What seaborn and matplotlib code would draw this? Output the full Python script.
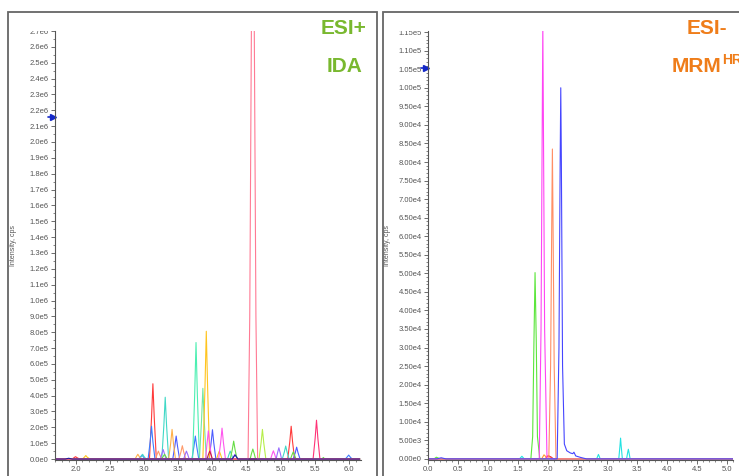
import numpy as np
import pandas as pd
import matplotlib
matplotlib.use("Agg")
import matplotlib.pyplot as plt
import matplotlib.ticker as mticker
from matplotlib.patches import Rectangle
from matplotlib.transforms import Bbox, TransformedBbox, blended_transform_factory
import seaborn as sns

sns.set_theme(style="white")
plt.rcParams["font.family"] = ["Liberation Sans", "DejaVu Sans"]

# ---- ESI+ IDA traces (time in min, intensity in cps) ----
pos_red_t = [1.70, 1.95, 1.98, 2.00, 2.02, 2.06, 3.08, 3.11, 3.13, 3.15, 3.18, 5.10, 5.13, 5.15, 5.17, 5.20, 6.15]
pos_red_y = [0, 0, 9e3, 1.5e4, 9e3, 0, 0, 2.6e5, 4.75e5, 2.6e5, 0, 0, 1.1e5, 2.07e5, 1.1e5, 0, 0]
pos_blue_t = [1.70, 2.92, 2.95, 2.97, 2.99, 3.02, 3.06, 3.09, 3.11, 3.13, 3.16, 3.70, 3.73, 3.75, 3.77, 3.80,
              5.94, 5.97, 5.99, 6.01, 6.04, 6.15]
pos_blue_y = [0, 0, 1.4e4, 2.5e4, 1.4e4, 0, 0, 1.1e5, 2.07e5, 1.1e5, 0, 0, 8e4, 1.45e5, 8e4, 0,
              0, 1.4e4, 2.5e4, 1.4e4, 0, 0]
pos_blue2_t = [1.70, 3.42, 3.45, 3.47, 3.49, 3.52, 3.95, 3.98, 4.00, 4.02, 4.05, 5.18, 5.21, 5.23, 5.25, 5.28, 6.15]
pos_blue2_y = [0, 0, 8e4, 1.45e5, 8e4, 0, 0, 1.0e5, 1.85e5, 1.0e5, 0, 0, 4e4, 7.5e4, 4e4, 0, 0]
pos_teal_t = [1.70, 2.94, 2.96, 2.98, 3.00, 3.03, 3.26, 3.29, 3.31, 3.33, 3.36, 4.22, 4.24, 4.26, 4.28, 4.30,
              5.02, 5.05, 5.07, 5.09, 5.12, 6.15]
pos_teal_y = [0, 0, 1.6e4, 3e4, 1.6e4, 0, 0, 2.1e5, 3.9e5, 2.1e5, 0, 0, 2.7e4, 5e4, 2.7e4, 0,
              0, 4.4e4, 8.2e4, 4.4e4, 0, 0]
pos_orange_t = [1.70, 2.87, 2.89, 2.91, 2.93, 2.96, 3.36, 3.39, 3.41, 3.43, 3.46, 6.15]
pos_orange_y = [0, 0, 1.6e4, 3e4, 1.6e4, 0, 0, 1.0e5, 1.87e5, 1.0e5, 0, 0]
pos_salmon_t = [1.70, 3.17, 3.19, 3.21, 3.23, 3.26, 3.51, 3.54, 3.56, 3.58, 3.61, 6.15]
pos_salmon_y = [0, 0, 2.7e4, 5e4, 2.7e4, 0, 0, 4.5e4, 8.4e4, 4.5e4, 0, 0]
pos_mint_t = [1.70, 3.71, 3.74, 3.76, 3.78, 3.81, 6.15]
pos_mint_y = [0, 0, 4.0e5, 7.35e5, 4.0e5, 0, 0]
pos_mint2_t = [1.70, 3.81, 3.84, 3.86, 3.88, 3.91, 6.15]
pos_mint2_y = [0, 0, 2.4e5, 4.46e5, 2.4e5, 0, 0]
pos_gold_t = [1.70, 2.10, 2.13, 2.15, 2.17, 2.21, 3.86, 3.89, 3.91, 3.93, 3.96, 4.06, 4.08, 4.10, 4.12, 4.14, 6.15]
pos_gold_y = [0, 0, 1.2e4, 2.2e4, 1.2e4, 0, 0, 4.4e5, 8.06e5, 4.4e5, 0, 0, 2.7e4, 5e4, 2.7e4, 0, 0]
pos_magenta_t = [1.70, 3.90, 3.92, 3.94, 3.96, 3.99, 4.09, 4.12, 4.14, 4.16, 4.19, 4.85, 4.87, 4.89, 4.91, 4.93, 6.15]
pos_magenta_y = [0, 0, 9.5e4, 1.78e5, 9.5e4, 0, 0, 1.05e5, 1.95e5, 1.05e5, 0, 0, 2.8e4, 5.2e4, 2.8e4, 0, 0]
pos_violet_t = [1.70, 3.24, 3.26, 3.28, 3.30, 3.32, 3.58, 3.60, 3.62, 3.64, 3.66, 4.29, 4.31, 4.33, 4.35, 4.37,
                4.93, 4.95, 4.97, 4.99, 5.01, 6.15]
pos_violet_y = [0, 0, 3.2e4, 6e4, 3.2e4, 0, 0, 2.7e4, 5e4, 2.7e4, 0, 0, 1.6e4, 3e4, 1.6e4, 0,
                0, 3.8e4, 7.1e4, 3.8e4, 0, 0]
pos_green_t = [1.70, 3.26, 3.28, 3.30, 3.32, 3.34, 4.26, 4.29, 4.31, 4.33, 4.36, 4.55, 4.57, 4.59, 4.61, 4.63,
               5.14, 5.16, 5.18, 5.20, 5.22, 5.60, 5.62, 5.64, 6.15]
pos_green_y = [0, 0, 1.6e4, 3e4, 1.6e4, 0, 0, 6e4, 1.13e5, 6e4, 0, 0, 3.4e4, 6.3e4, 3.4e4, 0,
               0, 2.4e4, 4.5e4, 2.4e4, 0, 0, 1e4, 0, 0]
pos_pink_t = [1.70, 4.52, 4.545, 4.57, 4.59, 4.61, 4.635, 4.66, 6.15]
pos_pink_y = [0, 0, 0.9e6, 2.8e6, 4.5e6, 2.8e6, 0.9e6, 0, 0]
pos_ygreen_t = [1.70, 4.68, 4.71, 4.73, 4.75, 4.78, 6.15]
pos_ygreen_y = [0, 0, 1.0e5, 1.87e5, 1.0e5, 0, 0]
pos_crimson_t = [1.70, 5.47, 5.50, 5.52, 5.54, 5.57, 6.15]
pos_crimson_y = [0, 0, 1.3e5, 2.45e5, 1.3e5, 0, 0]
pos_darkred_t = [1.70, 3.92, 3.94, 3.96, 3.98, 4.00, 6.15]
pos_darkred_y = [0, 0, 2.7e4, 5e4, 2.7e4, 0, 0]
pos_navy_t = [1.70, 1.85, 1.90, 1.95, 4.29, 4.31, 4.33, 4.35, 4.37, 6.15]
pos_navy_y = [0, 0, 5e3, 0, 0, 1.4e4, 2.5e4, 1.4e4, 0, 0]

# ---- ESI- MRMHR traces ----
neg_green_t = [0.02, 0.10, 0.14, 0.20, 1.72, 1.75, 1.77, 1.79, 1.81, 1.83, 1.87, 5.10]
neg_green_y = [0, 0, 450, 0, 0, 6e3, 3.0e4, 5.02e4, 3.2e4, 6e3, 0, 0]
neg_magenta_t = [0.02, 1.86, 1.89, 1.91, 1.92, 1.93, 1.95, 1.99, 5.10]
neg_magenta_y = [0, 0, 3.5e4, 9e4, 1.17e5, 9e4, 3.5e4, 0, 0]
neg_salmon_t = [0.02, 2.02, 2.05, 2.07, 2.08, 2.09, 2.11, 2.14, 5.10]
neg_salmon_y = [0, 0, 2.5e4, 6.5e4, 8.35e4, 6.5e4, 2.5e4, 0, 0]
neg_blue_t = [0.02, 0.15, 0.22, 0.30, 2.16, 2.19, 2.21, 2.22, 2.23, 2.25, 2.28, 2.32, 2.38, 2.42, 2.44, 2.47,
              2.55, 2.65, 5.10]
neg_blue_y = [0, 0, 300, 0, 0, 3e4, 8e4, 1.0e5, 8e4, 2.5e4, 4e3, 2.2e3, 1.6e3, 1.4e3, 1.8e3, 800,
              400, 0, 0]
neg_cyan_t = [0.02, 1.53, 1.57, 1.61, 2.82, 2.85, 2.88, 3.19, 3.21, 3.22, 3.23, 3.25, 3.32, 3.34, 3.35, 3.36,
              3.38, 5.10]
neg_cyan_y = [0, 0, 700, 0, 0, 1.2e3, 0, 0, 3.5e3, 5.6e3, 3.5e3, 0, 0, 1.8e3, 2.6e3, 1.8e3,
              0, 0]
neg_orange_t = [0.02, 1.90, 1.94, 1.98, 2.02, 2.06, 5.10]
neg_orange_y = [0, 0, 1.1e3, 400, 900, 0, 0]
neg_red_t = [0.02, 1.96, 2.00, 2.05, 2.10, 5.10]
neg_red_y = [0, 0, 800, 600, 0, 0]

pos_traces = [
    ("red", "#ff3b3b", pos_red_t, pos_red_y),
    ("blue", "#3a7bff", pos_blue_t, pos_blue_y),
    ("blue2", "#4c5cff", pos_blue2_t, pos_blue2_y),
    ("teal", "#40d8c6", pos_teal_t, pos_teal_y),
    ("orange", "#ffb04a", pos_orange_t, pos_orange_y),
    ("salmon", "#ff9a6a", pos_salmon_t, pos_salmon_y),
    ("mint", "#4cefb2", pos_mint_t, pos_mint_y),
    ("mint2", "#72e6a4", pos_mint2_t, pos_mint2_y),
    ("gold", "#ffc41f", pos_gold_t, pos_gold_y),
    ("magenta", "#ff55ee", pos_magenta_t, pos_magenta_y),
    ("violet", "#9a6cff", pos_violet_t, pos_violet_y),
    ("green", "#66dd44", pos_green_t, pos_green_y),
    ("ygreen", "#b6ee4a", pos_ygreen_t, pos_ygreen_y),
    ("crimson", "#ff3377", pos_crimson_t, pos_crimson_y),
    ("darkred", "#c8203c", pos_darkred_t, pos_darkred_y),
    ("pink", "#ff7a94", pos_pink_t, pos_pink_y),
    ("navy", "#1c1ca0", pos_navy_t, pos_navy_y),
]
neg_traces = [
    ("cyan", "#22e2e2", neg_cyan_t, neg_cyan_y),
    ("orange", "#ff9933", neg_orange_t, neg_orange_y),
    ("red", "#ee3344", neg_red_t, neg_red_y),
    ("green", "#5ce63c", neg_green_t, neg_green_y),
    ("magenta", "#ff44f4", neg_magenta_t, neg_magenta_y),
    ("salmon", "#ff8f66", neg_salmon_t, neg_salmon_y),
    ("blue", "#4545ff", neg_blue_t, neg_blue_y),
]


def make_df(traces):
    rows = []
    for name, _, t, y in traces:
        rows.append(pd.DataFrame({"time": t, "intensity": y, "trace": name}))
    return pd.concat(rows, ignore_index=True)


def sci_fmt(decimals):
    def f(v, pos):
        v = round(v)
        if v == 0:
            return f"{0:.{decimals}f}e0"
        e = int(np.floor(np.log10(abs(v))))
        return f"{v / 10 ** e:.{decimals}f}e{e}"
    return f


W, H = 739, 476
fig = plt.figure(figsize=(W / 100, H / 100), dpi=100)


def fx(px):
    return px / W


def fy(py):
    return 1 - py / H


# panel frames
for x0, x1 in [(8, 377), (383, 760)]:
    fig.patches.append(Rectangle((fx(x0), fy(490)), fx(x1 - x0), (490 - 12) / H, transform=fig.transFigure,
                                 fill=False, edgecolor="#666666", linewidth=1.3, zorder=0))

axL = fig.add_axes([fx(55), fy(460), fx(306), 429 / H])
axR = fig.add_axes([fx(428), fy(460), fx(305), 429 / H])

for ax, traces, xlim, ylim, ymaj, ymin, dec in [
    (axL, pos_traces, (1.70, 6.17), (-6e3, 2.70e6), 1e5, 5e4, 1),
    (axR, neg_traces, (0.0, 5.10), (-300, 1.153e5), 5e3, 1e3, 2),
]:
    df = make_df(traces)
    pal = {n: c for n, c, _, _ in traces}
    sns.lineplot(data=df, x="time", y="intensity", hue="trace", palette=pal, hue_order=[n for n, _, _, _ in traces],
                 estimator=None, sort=False, legend=False, linewidth=0.8, ax=ax)
    ax.set_xlim(*xlim)
    ax.set_ylim(*ylim)
    ax.xaxis.set_major_locator(mticker.MultipleLocator(0.5))
    ax.xaxis.set_minor_locator(mticker.MultipleLocator(0.1))
    ax.yaxis.set_major_locator(mticker.MultipleLocator(ymaj))
    ax.yaxis.set_minor_locator(mticker.MultipleLocator(ymin))
    ax.yaxis.set_major_formatter(mticker.FuncFormatter(sci_fmt(dec)))
    ax.xaxis.set_major_formatter(mticker.FormatStrFormatter("%.1f"))
    for s in ["top", "right"]:
        ax.spines[s].set_visible(False)
    for s in ["left", "bottom"]:
        ax.spines[s].set_color("#555555")
        ax.spines[s].set_linewidth(0.8)
    ax.tick_params(which="major", direction="out", length=3, width=0.6, color="#555555",
                   labelsize=5.5, labelcolor="#555555", pad=1.5, left=True, bottom=True)
    ax.tick_params(which="minor", direction="out", length=1.6, width=0.5, color="#555555", left=True, bottom=True)
    ax.set_xlabel("Time, min", fontsize=5.5, color="#555555", labelpad=2)
    ax.set_ylabel("Intensity, cps", fontsize=5, color="#555555")
    ax.set_facecolor("white")

axL.yaxis.set_label_coords(-0.124, 0.5)
axR.yaxis.set_label_coords(-0.122, 0.5)

# blue cursor arrows on the y axes
for ax, yv in [(axL, 2.155e6), (axR, 1.054e5)]:
    tr = blended_transform_factory(ax.transAxes, ax.transData)
    ax.plot([-0.022, -0.006], [yv, yv], color="#1428c8", lw=1.2, transform=tr, clip_on=False)
    ax.plot([-0.006], [yv], marker=">", ms=4, color="#1428c8", transform=tr, clip_on=False)

# headings
green = "#79b82f"
orange = "#ef7d1a"
fig.text(fx(344), fy(29), "ESI+", color=green, fontsize=15, fontweight="bold", ha="center", va="center")
fig.text(fx(345), fy(67), "IDA", color=green, fontsize=15, fontweight="bold", ha="center", va="center")
fig.text(fx(707), fy(28), "ESI-", color=orange, fontsize=15, fontweight="bold", ha="center", va="center")
fig.text(fx(672), fy(66), "MRM", color=orange, fontsize=15, fontweight="bold", ha="left", va="center")
fig.text(fx(722), fy(60), "HR", color=orange, fontsize=10, fontweight="bold", ha="left", va="center")

# clip the top tick labels at the screenshot's plot edge
fig.canvas.draw()
clip = TransformedBbox(Bbox([[0, 0], [W / 100, (H - 31) / 100]]), fig.dpi_scale_trans)
for ax in (axL, axR):
    for lab in ax.get_yticklabels():
        lab.set_clip_box(clip)
        lab.set_clip_on(True)

fig.savefig("out.png", dpi=100, facecolor="white")
